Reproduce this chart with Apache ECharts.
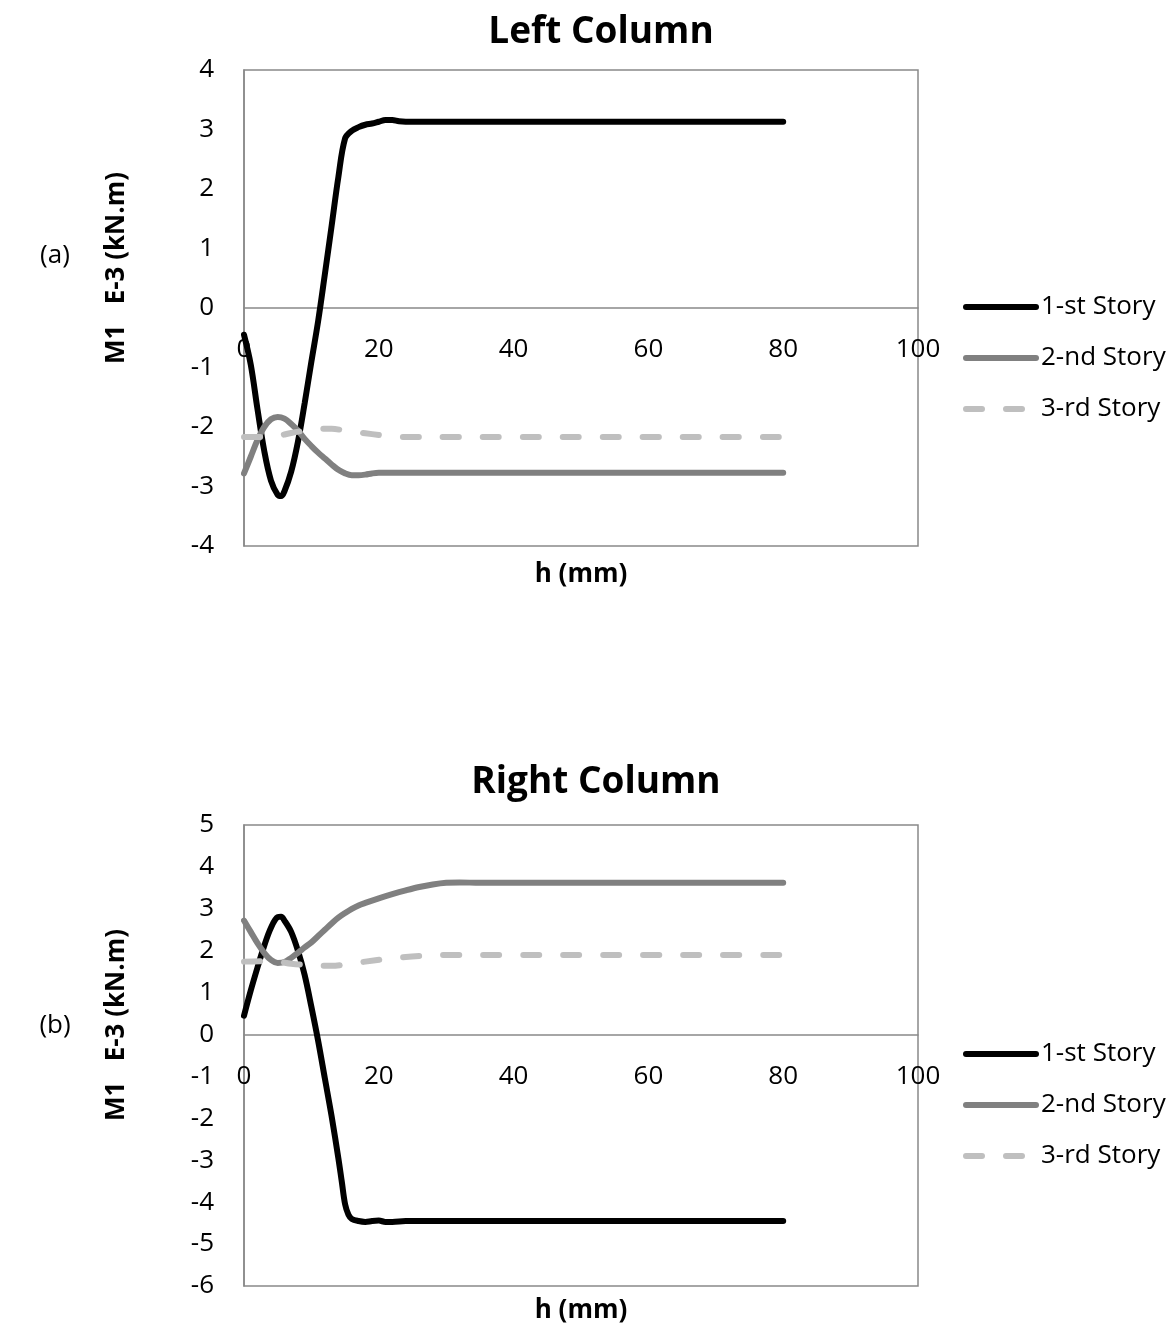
<!DOCTYPE html>
<html>
<head>
<meta charset="utf-8">
<title>M1 moment along column height</title>
<script src="https://cdn.jsdelivr.net/npm/echarts@6/dist/echarts.min.js"></script>
<style>
  html, body { margin: 0; padding: 0; background: #fff; }
  #chart { width: 1171px; height: 1329px; }
</style>
</head>
<body>
<div id="chart"></div>
<script>
// Moment M1 (x1E-3 kN.m) versus height h (mm), pairs of [h, M1]
const seriesNames = ['1-st Story', '2-nd Story', '3-rd Story'];
const xTicks = [0, 20, 40, 60, 80, 100];

// Left column
const left1st = [[0,-0.45],[1,-0.95],[2,-1.7],[3,-2.4],[4,-2.9],[5,-3.14],[5.5,-3.16],[6,-3.08],[7,-2.75],[8,-2.25],[9,-1.6],[10,-0.9],[11,-0.22],[12,0.57],[13,1.38],[14,2.2],[15,2.85],[16,2.98],[17,3.04],[18,3.08],[19,3.1],[20,3.13],[21,3.16],[22,3.16],[23,3.14],[25,3.13],[30,3.13],[40,3.13],[50,3.13],[60,3.13],[70,3.13],[80,3.13]];
const left2nd = [[0,-2.78],[1,-2.5],[2,-2.22],[3,-2.0],[4,-1.87],[5,-1.83],[6,-1.86],[7,-1.95],[8,-2.06],[9,-2.2],[10,-2.32],[11,-2.43],[12,-2.53],[13,-2.63],[14,-2.72],[15,-2.78],[16,-2.81],[17,-2.81],[18,-2.8],[19,-2.78],[20,-2.77],[30,-2.77],[40,-2.77],[50,-2.77],[60,-2.77],[70,-2.77],[80,-2.77]];
const left3rd = [[0,-2.17],[3,-2.17],[5,-2.15],[7,-2.1],[9,-2.06],[11,-2.03],[13,-2.03],[15,-2.06],[17,-2.09],[19,-2.12],[21,-2.15],[23,-2.17],[30,-2.17],[40,-2.17],[50,-2.17],[60,-2.17],[70,-2.17],[80,-2.17]];

// Right column
const right1st = [[0,0.45],[1,1.05],[2,1.6],[3,2.12],[4,2.55],[5,2.8],[5.5,2.81],[6,2.72],[7,2.45],[8,2.0],[9,1.42],[10,0.66],[11,-0.15],[12,-1.05],[13,-1.95],[14,-2.95],[14.5,-3.5],[15,-4.05],[15.5,-4.3],[16,-4.4],[17,-4.45],[18,-4.47],[19,-4.45],[20,-4.44],[21,-4.47],[22,-4.47],[24,-4.45],[30,-4.45],[40,-4.45],[50,-4.45],[60,-4.45],[70,-4.45],[80,-4.45]];
const right2nd = [[0,2.72],[1,2.45],[2,2.18],[3,1.95],[4,1.78],[5,1.71],[6,1.73],[7,1.83],[8,1.95],[9,2.08],[10,2.2],[11,2.35],[12,2.5],[13,2.65],[14,2.79],[15,2.9],[16,3.0],[17,3.08],[18,3.14],[20,3.25],[22,3.35],[24,3.44],[26,3.52],[28,3.58],[30,3.62],[32,3.63],[35,3.62],[40,3.62],[50,3.62],[60,3.62],[70,3.62],[80,3.62]];
const right3rd = [[0,1.74],[3,1.75],[5,1.74],[7,1.69],[10,1.65],[13,1.64],[15,1.67],[18,1.74],[21,1.8],[24,1.85],[27,1.88],[30,1.9],[40,1.9],[50,1.9],[60,1.9],[70,1.9],[80,1.9]];

const FONT = '"Open Sans", Lato, sans-serif';
const AXIS_GRAY = '#898989';
const lineStyles = [
  { color: '#000000', width: 6, type: 'solid', cap: 'round' },
  { color: '#808080', width: 6, type: 'solid', cap: 'round' },
  { color: '#bfbfbf', width: 6, type: [16, 24], cap: 'round' }
];

// x labels sit just under the zero line (the horizontal axis crosses at y = 0)
function xAxisFor(gridIndex, labelMargin) {
  return {
    gridIndex, type: 'value', min: xTicks[0], max: xTicks[xTicks.length - 1], interval: 20,
    axisLine: { show: true, onZero: true, lineStyle: { color: AXIS_GRAY, width: 1.5 } },
    axisTick: { show: false },
    splitLine: { show: false },
    axisLabel: { color: '#000', fontFamily: FONT, fontSize: 26, margin: labelMargin }
  };
}
function yAxisFor(gridIndex, min, max) {
  return {
    gridIndex, type: 'value', min, max, interval: 1,
    axisLine: { show: true, onZero: false, lineStyle: { color: AXIS_GRAY, width: 1.5 } },
    axisTick: { show: false },
    splitLine: { show: false },
    axisLabel: { color: '#000', fontFamily: FONT, fontSize: 26, margin: 30 }
  };
}
function lineSeries(name, data, idx, axisIdx) {
  return {
    name, type: 'line', data, xAxisIndex: axisIdx, yAxisIndex: axisIdx,
    symbol: 'none', smooth: 0.35, lineStyle: lineStyles[idx],
    itemStyle: { color: lineStyles[idx].color }, z: 2 + idx
  };
}
function legendAt(top) {
  return {
    data: seriesNames, orient: 'vertical', left: 963, top, padding: 0,
    itemWidth: 70, itemHeight: 24, itemGap: 25,
    itemStyle: { color: 'rgba(0,0,0,0)', borderWidth: 0, opacity: 0 },
    lineStyle: { width: 6, cap: 'round' },
    textStyle: { color: '#000', fontFamily: FONT, fontSize: 26, padding: [0, 0, 0, 0] }
  };
}
function label(text, x, y, opts) {
  return Object.assign({
    type: 'text', x, y,
    style: { text, fill: '#000', font: (opts && opts.font) || ('26px ' + FONT), align: 'center', verticalAlign: 'middle' }
  }, opts && opts.rotation ? { rotation: opts.rotation } : {});
}

const chart = echarts.init(document.getElementById('chart'), null, { renderer: 'canvas' });
chart.setOption({
  animation: false,
  backgroundColor: '#ffffff',
  grid: [
    { left: 244, top: 70, width: 674, height: 476, show: true, borderColor: AXIS_GRAY, borderWidth: 1.5, backgroundColor: 'transparent' },
    { left: 244, top: 825, width: 674, height: 461, show: true, borderColor: AXIS_GRAY, borderWidth: 1.5, backgroundColor: 'transparent' }
  ],
  xAxis: [xAxisFor(0, -209), xAxisFor(1, -222)],
  yAxis: [yAxisFor(0, -4, 4), yAxisFor(1, -6, 5)],
  legend: [legendAt(294), legendAt(1041)],
  series: [
    lineSeries(seriesNames[0], left1st, 0, 0),
    lineSeries(seriesNames[1], left2nd, 1, 0),
    lineSeries(seriesNames[2], left3rd, 2, 0),
    lineSeries(seriesNames[0], right1st, 0, 1),
    lineSeries(seriesNames[1], right2nd, 1, 1),
    lineSeries(seriesNames[2], right3rd, 2, 1)
  ],
  graphic: [
    label('Left Column', 601, 32, { font: 'bold 37px ' + FONT }),
    label('Right Column', 596, 782, { font: 'bold 37px ' + FONT }),
    label('h (mm)', 581, 575, { font: 'bold 26px ' + FONT }),
    label('h (mm)', 581, 1311, { font: 'bold 26px ' + FONT }),
    label('M1   E-3 (kN.m)', 117, 268, { font: 'bold 26px ' + FONT, rotation: Math.PI / 2 }),
    label('M1   E-3 (kN.m)', 117, 1025, { font: 'bold 26px ' + FONT, rotation: Math.PI / 2 }),
    label('(a)', 55, 256),
    label('(b)', 55, 1026)
  ]
});
</script>
</body>
</html>
